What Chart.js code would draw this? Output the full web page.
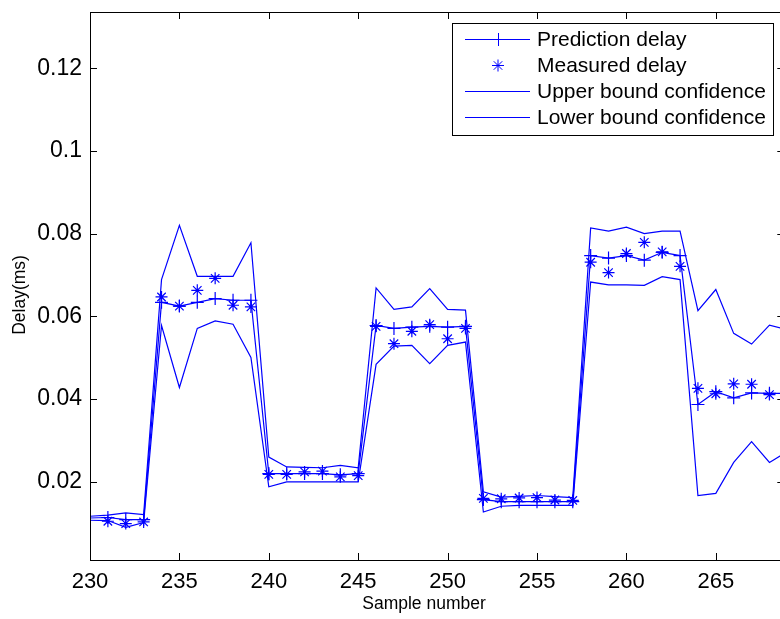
<!DOCTYPE html>
<html>
<head>
<meta charset="utf-8">
<script src="https://cdn.jsdelivr.net/npm/chart.js@4/dist/chart.umd.min.js"></script>
<style>
    html, body { margin: 0; padding: 0; background: #fff; overflow: hidden; }
    #wrap { width: 780px; height: 619px; overflow: hidden; }
</style>
</head>
<body>
<div id="wrap"><canvas id="grafico" width="792" height="619"></canvas></div>
<script>
const samples = [230, 231, 232, 233, 234, 235, 236, 237, 238, 239,
    240, 241, 242, 243, 244, 245, 246, 247, 248, 249,
    250, 251, 252, 253, 254, 255, 256, 257, 258, 259,
    260, 261, 262, 263, 264, 265, 266, 267, 268, 269];

const predictionDelay = [0.01125, 0.01137, 0.01088, 0.01088,
    0.0634, 0.0625, 0.0634, 0.0643, 0.0639, 0.0639,
    0.0220, 0.0220, 0.0220, 0.0220, 0.0217, 0.0220,
    0.0578, 0.0571, 0.0574, 0.0576, 0.0574, 0.0576,
    0.0157, 0.0152, 0.0152, 0.0152, 0.0152, 0.0152,
    0.0747, 0.0741, 0.0747, 0.0736, 0.0755, 0.0747,
    0.0387, 0.0418, 0.0403, 0.0415, 0.0414, 0.0414];

const measuredDelay = [null, 0.01047, 0.0099, 0.0103,
    0.0647, 0.0625, 0.0663, 0.0692, 0.0627, 0.0623,
    0.0218, 0.0218, 0.0224, 0.0226, 0.0212, 0.0215,
    0.0576, 0.0534, 0.0564, 0.0580, 0.0546, 0.0571,
    0.0160, 0.0159, 0.0161, 0.0162, 0.0156, 0.0155,
    0.0731, 0.0706, 0.0752, 0.0779, 0.0756, 0.0721,
    0.0426, 0.0413, 0.0437, 0.0436, 0.0411, 0.0412];

const upperBound = [0.01168, 0.01197, 0.0125, 0.0121,
    0.0689, 0.0820, 0.0697, 0.0697, 0.0697, 0.0778,
    0.0260, 0.0236, 0.0235, 0.0234, 0.0240, 0.0234,
    0.0669, 0.0617, 0.0623, 0.0667, 0.0617, 0.0615,
    0.0176, 0.0163, 0.0165, 0.0167, 0.0164, 0.0162,
    0.0814, 0.0806, 0.0816, 0.0800, 0.0806, 0.0806,
    0.0614, 0.0665, 0.0559, 0.0533, 0.0579, 0.0568];

const lowerBound = [0.01071, 0.01064, 0.0090, 0.01016,
    0.0578, 0.0428, 0.0571, 0.0589, 0.0581, 0.0501,
    0.0188, 0.0200, 0.0200, 0.0200, 0.0200, 0.0200,
    0.0484, 0.0528, 0.0530, 0.0486, 0.0530, 0.0538,
    0.0127, 0.0141, 0.0143, 0.0143, 0.0143, 0.0143,
    0.0683, 0.0676, 0.0676, 0.0675, 0.0696, 0.0689,
    0.0167, 0.0172, 0.0247, 0.0297, 0.0247, 0.0273];

const xTicks = [230, 235, 240, 245, 250, 255, 260, 265];
const yTicks = [0.02, 0.04, 0.06, 0.08, 0.1, 0.12];
const legendLabels = ['Prediction delay', 'Measured delay', 'Upper bound confidence', 'Lower bound confidence'];

const AZUL = '#0000ff';
const FONTE = '"Liberation Sans", Arial, Helvetica, sans-serif';

function pontos(valores) {
    return samples.map((x, i) => ({ x: x, y: valores[i] }));
}

// caixa estilo matlab: borda completa e ticks para dentro
const caixaPlugin = {
    id: 'caixa',
    afterDraw(chart) {
        const ctx = chart.ctx;
        const a = chart.chartArea;
        const sx = chart.scales.x;
        const sy = chart.scales.y;
        const tl = 7;
        ctx.save();
        ctx.strokeStyle = '#000';
        ctx.lineWidth = 1;
        ctx.beginPath();
        xTicks.forEach((v) => {
            const px = Math.round(sx.getPixelForValue(v)) + 0.5;
            ctx.moveTo(px, a.bottom);
            ctx.lineTo(px, a.bottom - tl);
            ctx.moveTo(px, a.top);
            ctx.lineTo(px, a.top + tl);
        });
        yTicks.forEach((v) => {
            const py = Math.round(sy.getPixelForValue(v)) + 0.5;
            ctx.moveTo(a.left, py);
            ctx.lineTo(a.left + tl, py);
            ctx.moveTo(a.right, py);
            ctx.lineTo(a.right - tl, py);
        });
        ctx.stroke();
        ctx.strokeRect(Math.round(a.left) + 0.5, Math.round(a.top) + 0.5,
            Math.round(a.right - a.left), Math.round(a.bottom - a.top));

        // titulos dos eixos
        ctx.fillStyle = '#000';
        ctx.font = '17.5px ' + FONTE;
        ctx.textAlign = 'center';
        ctx.textBaseline = 'middle';
        ctx.fillText('Sample number', 424, 604);
        ctx.translate(20, 295);
        ctx.rotate(-Math.PI / 2);
        ctx.fillText('Delay(ms)', 0, 0);
        ctx.restore();

        desenharLegenda(ctx);
    }
};

function desenharLegenda(ctx) {
    const box = { x: 452, y: 23, w: 321, h: 112 };
    const linhas = [39.5, 65.5, 91.5, 117.5];
    ctx.save();
    ctx.fillStyle = '#fff';
    ctx.fillRect(box.x, box.y, box.w, box.h);
    ctx.strokeStyle = '#000';
    ctx.lineWidth = 1;
    ctx.strokeRect(box.x + 0.5, box.y + 0.5, box.w, box.h);

    ctx.strokeStyle = AZUL;
    ctx.lineWidth = 1;
    linhas.forEach((y, i) => {
        ctx.beginPath();
        if (i !== 1) {
            ctx.moveTo(465, y);
            ctx.lineTo(530, y);
        }
        if (i === 0) {
            ctx.moveTo(498.5, y - 6.5);
            ctx.lineTo(498.5, y + 6.5);
        }
        if (i === 1) {
            const r = 6;
            for (let k = 0; k < 4; k++) {
                const ang = k * Math.PI / 4;
                ctx.moveTo(498 - Math.cos(ang) * r, y - Math.sin(ang) * r);
                ctx.lineTo(498 + Math.cos(ang) * r, y + Math.sin(ang) * r);
            }
        }
        ctx.stroke();
    });

    ctx.fillStyle = '#000';
    ctx.font = '21px ' + FONTE;
    ctx.textAlign = 'left';
    ctx.textBaseline = 'middle';
    legendLabels.forEach((txt, i) => {
        ctx.fillText(txt, 537, linhas[i] + 1);
    });
    ctx.restore();
}

function iniciarGrafico() {
    const canvas = document.getElementById('grafico');
    Chart.defaults.font.family = FONTE;
    Chart.defaults.color = '#000';

    new Chart(canvas, {
        type: 'line',
        data: {
            datasets: [
                {
                    label: legendLabels[0],
                    data: pontos(predictionDelay),
                    borderColor: AZUL,
                    borderWidth: 1.2,
                    pointStyle: 'cross',
                    pointRadius: samples.map((s, i) => (i === 0 ? 0 : 6.5)),
                    pointBorderColor: AZUL,
                    pointBorderWidth: 1.2,
                    fill: false,
                    tension: 0,
                },
                {
                    label: legendLabels[1],
                    data: pontos(measuredDelay),
                    showLine: false,
                    pointStyle: 'star',
                    pointRadius: 6,
                    pointBorderColor: AZUL,
                    pointBorderWidth: 1.2,
                    fill: false,
                },
                {
                    label: legendLabels[2],
                    data: pontos(upperBound),
                    borderColor: AZUL,
                    borderWidth: 1.2,
                    pointRadius: 0,
                    fill: false,
                    tension: 0,
                },
                {
                    label: legendLabels[3],
                    data: pontos(lowerBound),
                    borderColor: AZUL,
                    borderWidth: 1.2,
                    pointRadius: 0,
                    fill: false,
                    tension: 0,
                },
            ],
        },
        options: {
            responsive: false,
            animation: false,
            events: [],
            layout: { padding: { top: 12, right: 7, left: 0, bottom: 0 } },
            plugins: {
                legend: { display: false },
                tooltip: { enabled: false },
            },
            scales: {
                x: {
                    type: 'linear',
                    min: 230,
                    max: 268.83,
                    grid: { display: false, drawTicks: false },
                    border: { display: false },
                    afterBuildTicks: (scale) => { scale.ticks = xTicks.map((v) => ({ value: v })); },
                    afterFit: (scale) => {
                        scale.height = 59;
                        scale.paddingLeft = 0;
                        scale.paddingRight = 0;
                    },
                    ticks: {
                        font: { size: 22 },
                        color: '#000',
                        padding: 9,
                        maxRotation: 0,
                        autoSkip: false,
                    },
                },
                y: {
                    type: 'linear',
                    min: 0.0011,
                    max: 0.1336,
                    grid: { display: false, drawTicks: false },
                    border: { display: false },
                    afterBuildTicks: (scale) => { scale.ticks = yTicks.map((v) => ({ value: v })); },
                    afterFit: (scale) => {
                        scale.width = 90;
                        scale.paddingTop = 0;
                        scale.paddingBottom = 0;
                    },
                    ticks: {
                        font: { size: 23 },
                        color: '#000',
                        padding: 8,
                        callback: (v) => String(+v.toFixed(2)),
                    },
                },
            },
        },
        plugins: [caixaPlugin],
    });
}

document.addEventListener('DOMContentLoaded', iniciarGrafico);
</script>
</body>
</html>
